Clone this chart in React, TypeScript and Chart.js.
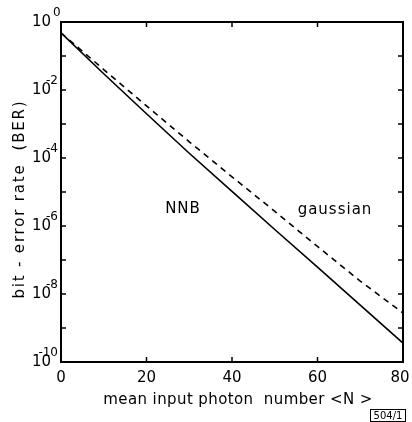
import React, { useEffect, useRef } from "react";
import { Chart, registerables } from "chart.js";

Chart.register(...registerables);

const photonNumbers = [0, 10, 20, 30, 40, 50, 60, 70, 80];
const berNNB = [4.8e-1, 3.0e-2, 2.0e-3, 1.38e-4, 1.05e-5, 7.9e-7, 6.2e-8, 4.7e-9, 3.6e-10];
const berGaussian = [4.8e-1, 4.0e-2, 3.4e-3, 3.0e-4, 2.8e-5, 2.7e-6, 2.5e-7, 2.4e-8, 2.75e-9];
const xTickValues = [0, 20, 40, 60, 80];
const yTickExponents = [0, -1, -2, -3, -4, -5, -6, -7, -8, -9, -10];
const yLabelExponents = ["0", "-2", "-4", "-6", "-8", "-10"];
const xTitle = "mean input photon  number <N >";
const yTitle = "bit - error rate  (BER)";
const FONT = "'DejaVu Sans', sans-serif";

const framePlugin = {
  id: "framePlugin",
  afterDraw(chart: any) {
    const { ctx, chartArea } = chart;
    const xs = chart.scales.x;
    const ys = chart.scales.y;
    const { left, right, top, bottom } = chartArea;
    ctx.save();
    ctx.strokeStyle = "#000";
    ctx.fillStyle = "#000";
    ctx.lineWidth = 2;
    ctx.strokeRect(left, top, right - left, bottom - top);
    ctx.lineWidth = 1.5;
    yTickExponents.forEach((e) => {
      const y = ys.getPixelForValue(Math.pow(10, e));
      ctx.beginPath();
      ctx.moveTo(left, y);
      ctx.lineTo(left + 5, y);
      ctx.moveTo(right, y);
      ctx.lineTo(right - 5, y);
      ctx.stroke();
    });
    xTickValues.slice(1, -1).forEach((v) => {
      const x = xs.getPixelForValue(v);
      ctx.beginPath();
      ctx.moveTo(x, bottom);
      ctx.lineTo(x, bottom - 5);
      ctx.moveTo(x, top);
      ctx.lineTo(x, top + 5);
      ctx.stroke();
    });
    ctx.font = `15px ${FONT}`;
    ctx.textAlign = "center";
    ctx.textBaseline = "top";
    xTickValues.forEach((v) => {
      const x = xs.getPixelForValue(v);
      ctx.fillText(String(v), v === 80 ? x - 3 : x, bottom + 9);
    });
    yLabelExponents.forEach((e) => {
      const y = ys.getPixelForValue(Math.pow(10, Number(e)));
      ctx.font = `15px ${FONT}`;
      ctx.textAlign = "right";
      ctx.textBaseline = "middle";
      ctx.fillText("10", 51, y);
      ctx.font = `12px ${FONT}`;
      ctx.textAlign = "left";
      const w = ctx.measureText(e).width;
      const sx = e === "0" ? 53 : 58 - w;
      ctx.fillText(e, sx, y - 9);
    });
    ctx.textAlign = "center";
    ctx.textBaseline = "middle";
    ctx.font = `15px ${FONT}`;
    (ctx as any).letterSpacing = "0.4px";
    ctx.fillText(xTitle, 238, 400);
    ctx.save();
    (ctx as any).letterSpacing = "1.8px";
    ctx.translate(20, 199);
    ctx.rotate(-Math.PI / 2);
    ctx.fillText(yTitle, 0, 0);
    ctx.restore();
    (ctx as any).letterSpacing = "1px";
    ctx.fillText("NNB", 183, 209);
    ctx.fillText("gaussian", 335, 210);
    (ctx as any).letterSpacing = "0px";
    ctx.font = `10px ${FONT}`;
    ctx.lineWidth = 1;
    ctx.strokeRect(370.5, 409.5, 35, 12);
    ctx.fillText("504/1", 388, 416);
    ctx.restore();
  },
};

export default function App() {
  const ref = useRef<HTMLCanvasElement | null>(null);
  useEffect(() => {
    if (!ref.current) return;
    const chart = new Chart(ref.current, {
      type: "line",
      data: {
        datasets: [
          {
            label: "NNB",
            data: photonNumbers.map((x, i) => ({ x, y: berNNB[i] })),
            borderColor: "#000",
            borderWidth: 1.6,
            pointRadius: 0,
            fill: false,
            tension: 0,
          },
          {
            label: "gaussian",
            data: photonNumbers.map((x, i) => ({ x, y: berGaussian[i] })),
            borderColor: "#000",
            borderWidth: 1.6,
            borderDash: [6, 5],
            pointRadius: 0,
            fill: false,
            tension: 0,
          },
        ],
      },
      options: {
        animation: false,
        responsive: false,
        layout: { padding: { left: 61, right: 9, top: 22, bottom: 60 } },
        plugins: { legend: { display: false }, tooltip: { enabled: false } },
        scales: {
          x: { type: "linear", min: 0, max: 80, display: false },
          y: { type: "logarithmic", min: 1e-10, max: 1, display: false },
        },
      },
      plugins: [framePlugin],
    });
    return () => chart.destroy();
  }, []);
  return (
    <div style={{ position: "fixed", left: 0, top: 0, width: 412, height: 422, background: "#fff" }}>
      <canvas ref={ref} width={412} height={422} style={{ width: 412, height: 422 }} />
    </div>
  );
}
